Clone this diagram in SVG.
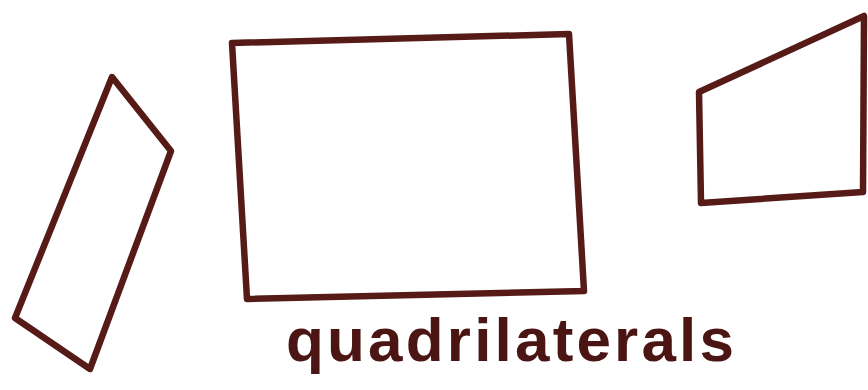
<svg xmlns="http://www.w3.org/2000/svg" width="868" height="390" viewBox="0 0 868 390">
<style>
.shape{fill:none;stroke:#561b17;stroke-width:6.5;stroke-linejoin:round;stroke-linecap:round}
.lbl{font-family:"Liberation Sans",Arial,sans-serif;font-size:62px;fill:#4a1512;font-weight:bold}
</style>
<rect width="868" height="390" fill="#ffffff"/>
<g id="quad-left"><path class="shape" d="M112,77 L171,151 L90,369 L15,318 Z"/></g>
<g id="quad-middle"><path class="shape" d="M232,43 L569,34 L584,291 L247,299 Z"/></g>
<g id="quad-right"><path class="shape" d="M699,92 L864,16 L863,192 L701,203 Z"/></g>
<g id="label"><text class="lbl" x="286" y="361" textLength="448" lengthAdjust="spacing">quadrilaterals</text></g>
</svg>
